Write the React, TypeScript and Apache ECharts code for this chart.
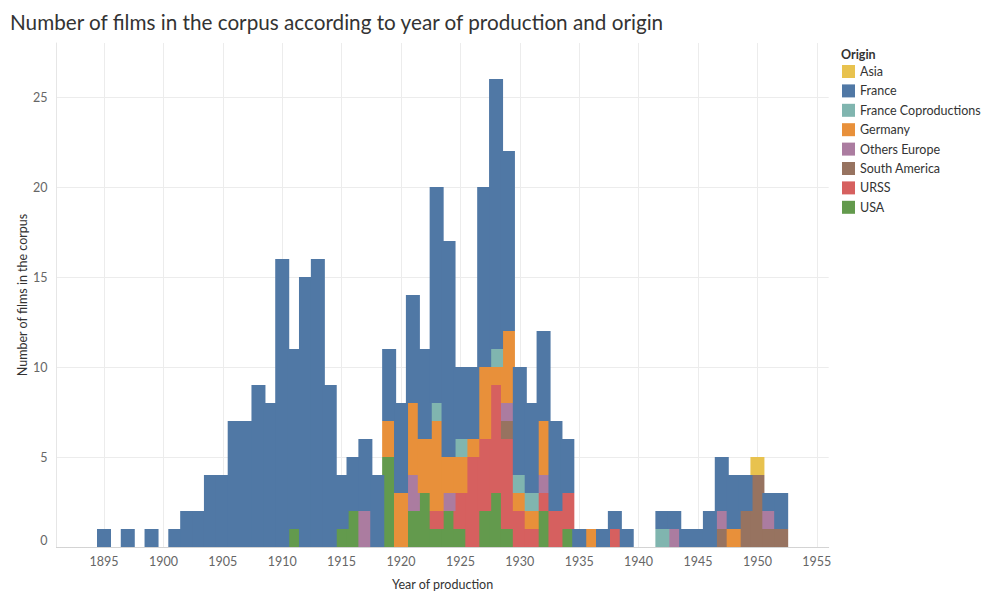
import React, { useEffect, useRef } from "react";
import * as echarts from "echarts";

// x categories (one per year) spanning the visible axis range
const YEARS = [
  "1891", "1892", "1893", "1894",
  "1895", "1896", "1897", "1898", "1899", "1900", "1901", "1902", "1903", "1904",
  "1905", "1906", "1907", "1908", "1909", "1910", "1911", "1912", "1913", "1914",
  "1915", "1916", "1917", "1918", "1919", "1920", "1921", "1922", "1923", "1924",
  "1925", "1926", "1927", "1928", "1929", "1930", "1931", "1932", "1933", "1934",
  "1935", "1936", "1937", "1938", "1939", "1940", "1941", "1942", "1943", "1944",
  "1945", "1946", "1947", "1948", "1949", "1950", "1951", "1952", "1953", "1954",
  "1955", "1956",
];

// values per year, 1891 .. 1956
const FRANCE = [
  0, 0, 0, 0,
  1, 0, 1, 0, 1, 0, 1, 2, 2, 4,
  4, 7, 7, 9, 8, 16, 10, 15, 16, 9,
  3, 3, 4, 4, 4, 5, 6, 5, 12, 12,
  4, 4, 10, 15, 10, 6, 5, 5, 5, 3,
  1, 0, 1, 1, 1, 0, 0, 1, 1, 1,
  1, 2, 3, 3, 2, 0, 1, 2, 0, 0,
  0, 0,
];
const USA = [
  0, 0, 0, 0,
  0, 0, 0, 0, 0, 0, 0, 0, 0, 0,
  0, 0, 0, 0, 0, 0, 1, 0, 0, 0,
  1, 2, 0, 0, 5, 0, 2, 3, 1, 2,
  1, 0, 2, 3, 1, 0, 0, 2, 0, 1,
  0, 0, 0, 0, 0, 0, 0, 0, 0, 0,
  0, 0, 0, 0, 0, 0, 0, 0, 0, 0,
  0, 0,
];
const URSS = [
  0, 0, 0, 0,
  0, 0, 0, 0, 0, 0, 0, 0, 0, 0,
  0, 0, 0, 0, 0, 0, 0, 0, 0, 0,
  0, 0, 0, 0, 0, 0, 0, 0, 1, 0,
  2, 5, 4, 6, 5, 2, 1, 1, 2, 2,
  0, 0, 0, 1, 0, 0, 0, 0, 0, 0,
  0, 0, 0, 0, 0, 0, 0, 0, 0, 0,
  0, 0,
];
const SOUTH_AMERICA = [
  0, 0, 0, 0,
  0, 0, 0, 0, 0, 0, 0, 0, 0, 0,
  0, 0, 0, 0, 0, 0, 0, 0, 0, 0,
  0, 0, 0, 0, 0, 0, 0, 0, 0, 0,
  0, 0, 0, 0, 1, 0, 0, 0, 0, 0,
  0, 0, 0, 0, 0, 0, 0, 0, 0, 0,
  0, 0, 1, 0, 2, 4, 1, 1, 0, 0,
  0, 0,
];
const OTHERS_EUROPE = [
  0, 0, 0, 0,
  0, 0, 0, 0, 0, 0, 0, 0, 0, 0,
  0, 0, 0, 0, 0, 0, 0, 0, 0, 0,
  0, 0, 2, 0, 0, 0, 2, 0, 0, 1,
  0, 0, 0, 0, 1, 0, 0, 1, 0, 0,
  0, 0, 0, 0, 0, 0, 0, 0, 1, 0,
  0, 0, 1, 0, 0, 0, 1, 0, 0, 0,
  0, 0,
];
const GERMANY = [
  0, 0, 0, 0,
  0, 0, 0, 0, 0, 0, 0, 0, 0, 0,
  0, 0, 0, 0, 0, 0, 0, 0, 0, 0,
  0, 0, 0, 0, 2, 3, 4, 3, 5, 2,
  2, 1, 4, 1, 4, 1, 1, 3, 0, 0,
  0, 1, 0, 0, 0, 0, 0, 0, 0, 0,
  0, 0, 0, 1, 0, 0, 0, 0, 0, 0,
  0, 0,
];
const FRANCE_COPROD = [
  0, 0, 0, 0,
  0, 0, 0, 0, 0, 0, 0, 0, 0, 0,
  0, 0, 0, 0, 0, 0, 0, 0, 0, 0,
  0, 0, 0, 0, 0, 0, 0, 0, 1, 0,
  1, 0, 0, 1, 0, 1, 1, 0, 0, 0,
  0, 0, 0, 0, 0, 0, 0, 1, 0, 0,
  0, 0, 0, 0, 0, 0, 0, 0, 0, 0,
  0, 0,
];
const ASIA = [
  0, 0, 0, 0,
  0, 0, 0, 0, 0, 0, 0, 0, 0, 0,
  0, 0, 0, 0, 0, 0, 0, 0, 0, 0,
  0, 0, 0, 0, 0, 0, 0, 0, 0, 0,
  0, 0, 0, 0, 0, 0, 0, 0, 0, 0,
  0, 0, 0, 0, 0, 0, 0, 0, 0, 0,
  0, 0, 0, 0, 0, 1, 0, 0, 0, 0,
  0, 0,
];

const LEGEND_ORDER = [
  "Asia",
  "France",
  "France Coproductions",
  "Germany",
  "Others Europe",
  "South America",
  "URSS",
  "USA",
];

// stacking order bottom -> top
const STACK = [
  { name: "USA", values: USA, color: "#639a4d" },
  { name: "URSS", values: URSS, color: "#d6605f" },
  { name: "South America", values: SOUTH_AMERICA, color: "#977360" },
  { name: "Others Europe", values: OTHERS_EUROPE, color: "#ab7ca0" },
  { name: "Germany", values: GERMANY, color: "#e8903a" },
  { name: "France Coproductions", values: FRANCE_COPROD, color: "#80b5af" },
  { name: "France", values: FRANCE, color: "#5078a5" },
  { name: "Asia", values: ASIA, color: "#e8c24e" },
];

const FONT = "Lato, 'Noto Sans', sans-serif";
const every5 = (_i: number, v: string) => Number(v) % 5 === 0;

export default function App() {
  const ref = useRef<HTMLDivElement>(null);
  useEffect(() => {
    if (!ref.current) return;
    const chart = echarts.init(ref.current, null, { renderer: "svg" });
    chart.setOption({
      animation: false,
      textStyle: { fontFamily: FONT },
      title: {
        text: "Number of films in the corpus according to year of production and origin",
        left: 5,
        top: 6,
        textStyle: { fontSize: 20.7, fontWeight: "normal", color: "#333", fontFamily: FONT },
      },
      legend: {
        orient: "vertical",
        left: 842,
        top: 65,
        padding: 0,
        icon: "rect",
        itemWidth: 13,
        itemHeight: 13,
        itemGap: 6.4,
        selectedMode: false,
        data: LEGEND_ORDER,
        textStyle: { fontSize: 12.5, color: "#333", lineHeight: 13, fontFamily: FONT },
      },
      graphic: [
        {
          type: "text",
          left: 841,
          top: 48,
          style: { text: "Origin", fontSize: 12.5, fontWeight: "bold", fill: "#333", fontFamily: FONT },
        },
      ],
      grid: {
        left: 56.5,
        right: 152.3,
        top: 43,
        bottom: 44,
        containLabel: false,
        outerBoundsMode: "none",
      },
      xAxis: {
        type: "category",
        data: YEARS,
        boundaryGap: false,
        name: "Year of production",
        nameLocation: "middle",
        nameGap: 31,
        nameMoveOverlap: false,
        nameTextStyle: { fontSize: 12.5, color: "#333" },
        axisLine: { show: true, lineStyle: { color: "#cfcfcf", type: "dotted" } },
        axisTick: { show: false },
        axisLabel: {
          color: "#666",
          fontSize: 12.5,
          margin: 8,
          interval: every5,
        },
        splitLine: {
          show: true,
          interval: every5,
          lineStyle: { color: "#ececec", width: 1 },
        },
      },
      yAxis: {
        type: "value",
        min: 0,
        max: 28,
        interval: 5,
        name: "Number of films in the corpus",
        nameLocation: "middle",
        nameGap: 28,
        nameMoveOverlap: false,
        nameTextStyle: { fontSize: 12.5, color: "#333" },
        axisLine: { show: true, lineStyle: { color: "#e6e6e6" } },
        axisTick: { show: false },
        axisLabel: {
          color: "#666",
          fontSize: 12.5,
          margin: 9,
          showMaxLabel: false,
          formatter: (v: number) => (v === 0 ? "{z|0}" : String(v)),
          rich: { z: { fontSize: 12.5, color: "#666", padding: [0, 0, 14, 0] } },
        },
        splitLine: {
          show: true,
          showMinLine: false,
          showMaxLine: false,
          lineStyle: { color: "#ececec", width: 1 },
        },
      },
      series: STACK.map((s) => ({
        name: s.name,
        type: "bar",
        stack: "total",
        barWidth: 14,
        itemStyle: { color: s.color },
        data: s.values,
      })),
    });
    return () => chart.dispose();
  }, []);
  return <div ref={ref} style={{ width: 981, height: 591, position: "absolute", left: 0, top: 0 }} />;
}
